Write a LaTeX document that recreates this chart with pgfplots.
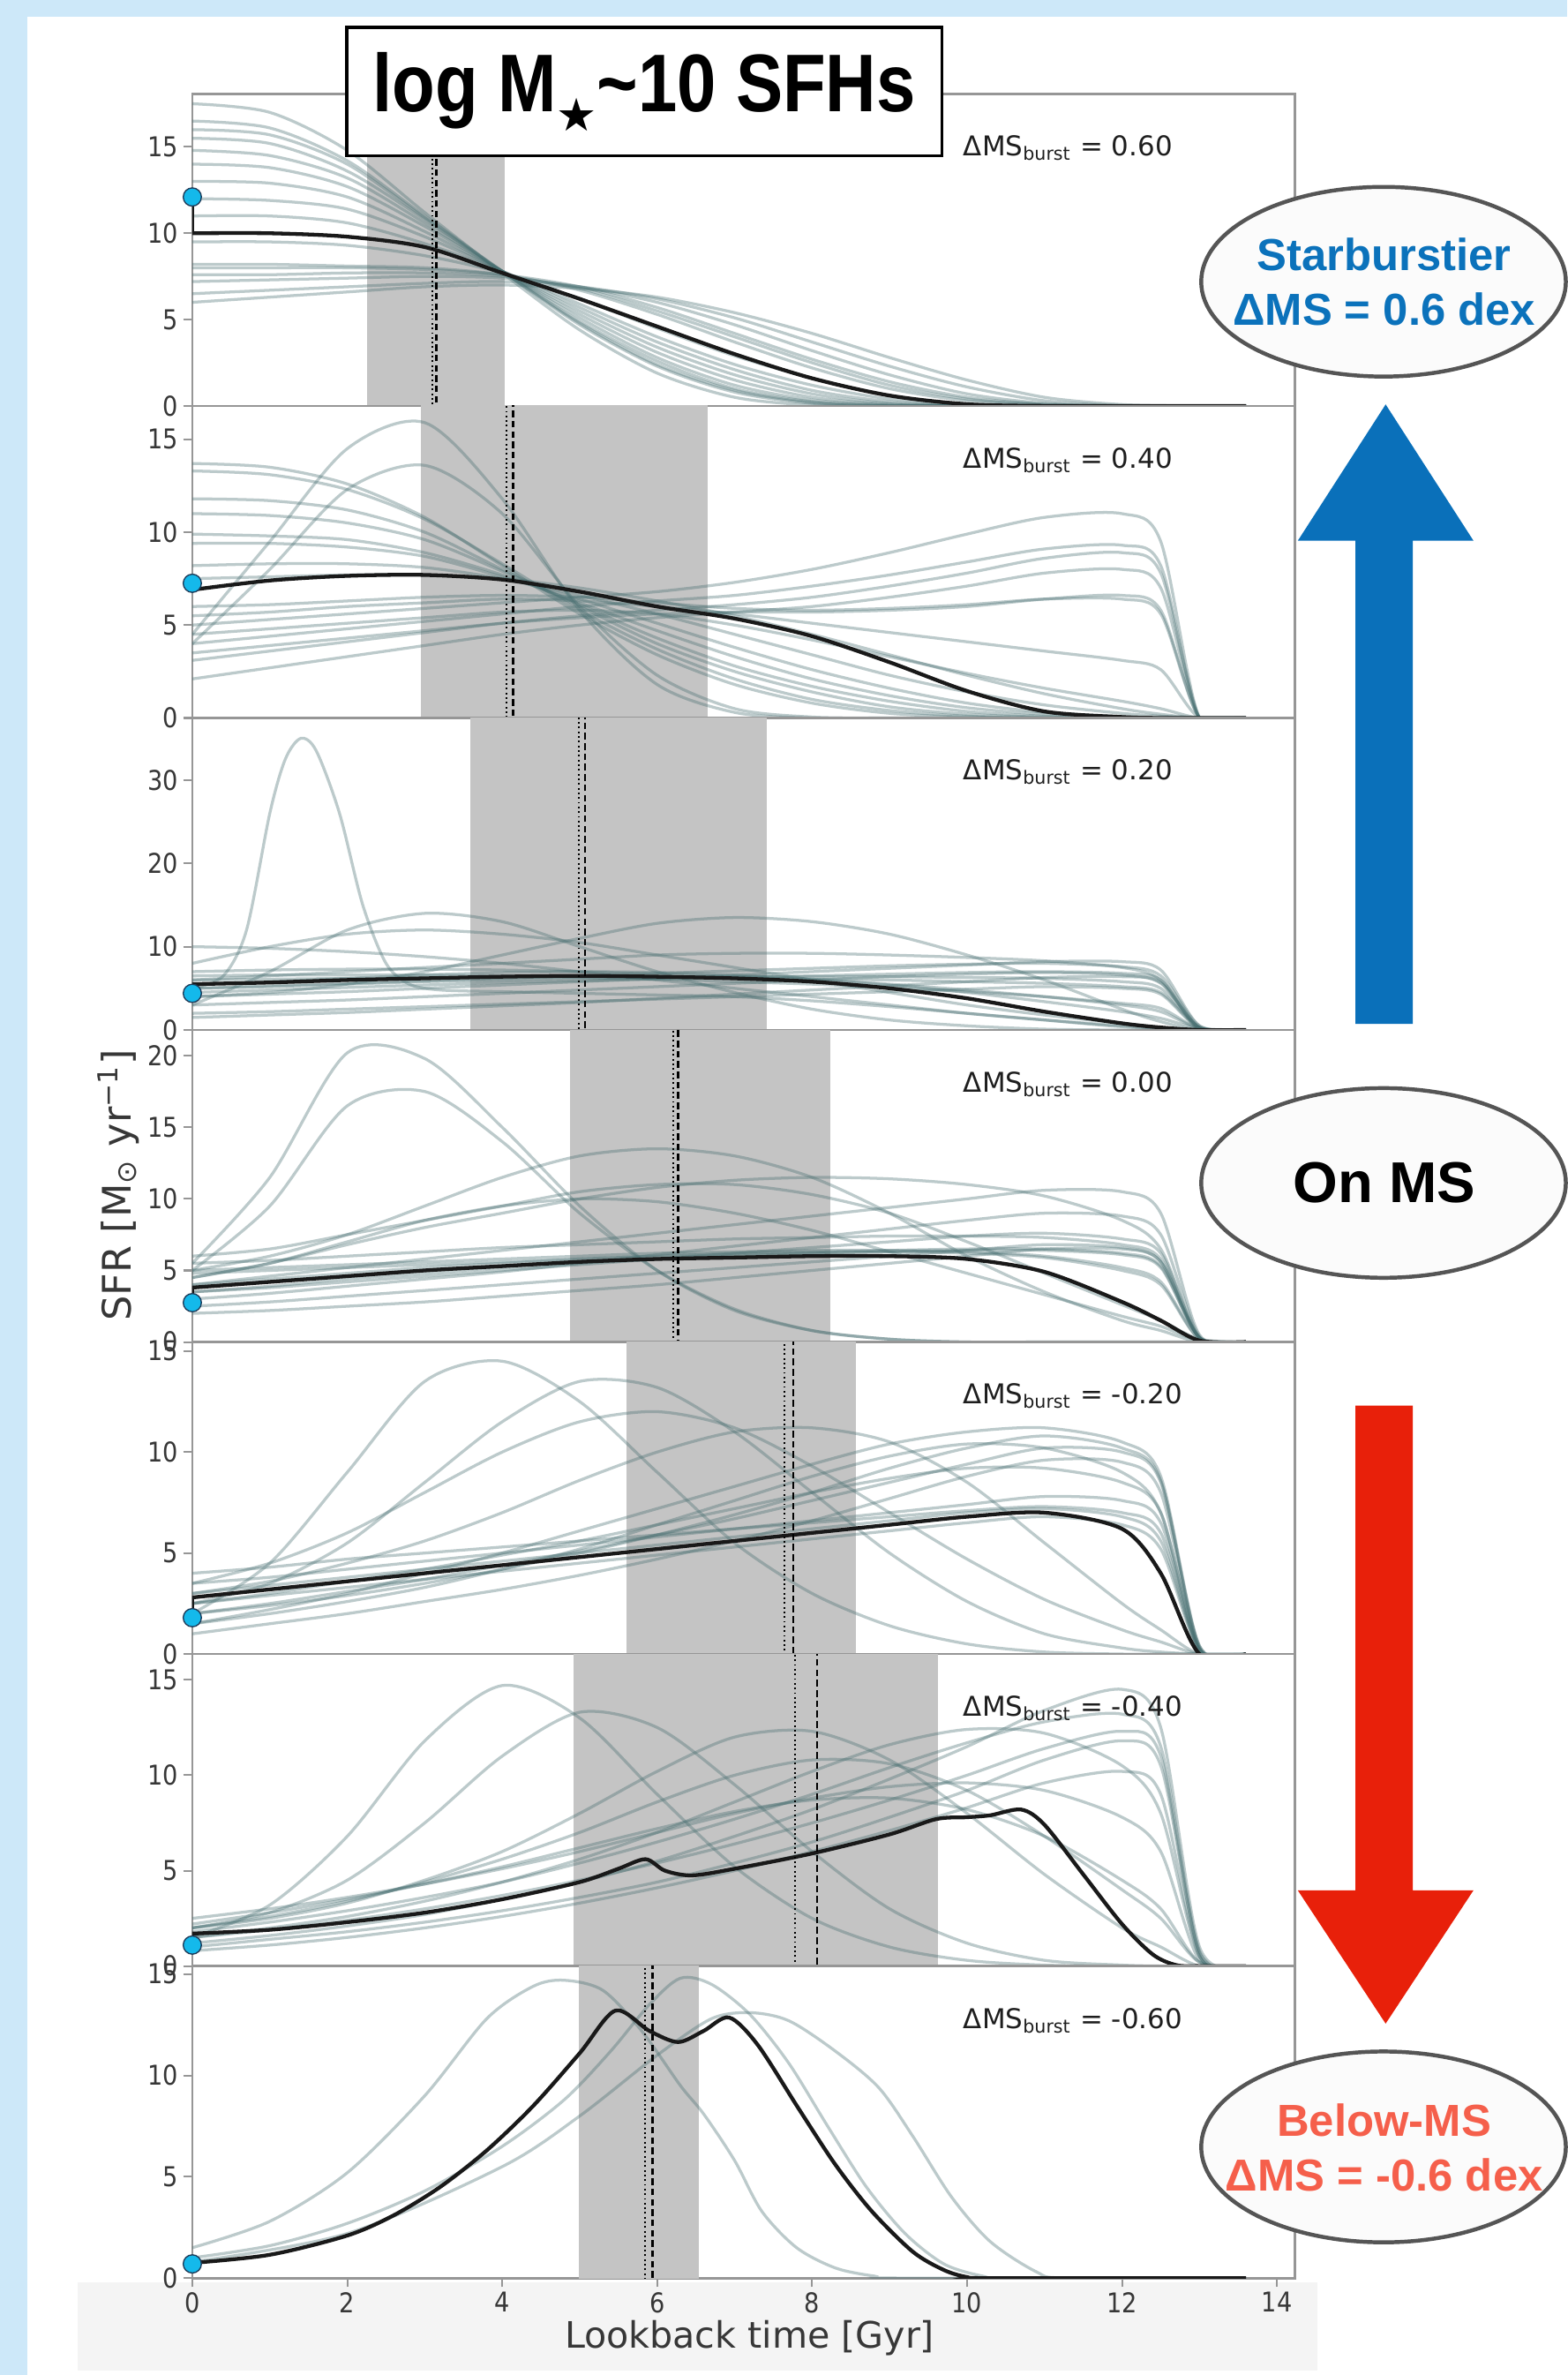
\documentclass[border=0pt]{standalone}
\usepackage{pgfplots}
\pgfplotsset{compat=1.18}
\usepackage{pgfplotstable}
\usepackage{fontspec}
\setmainfont{DejaVu Sans}
\newfontfamily\tickfont{DejaVu Sans}[FakeStretch=0.88]
\newfontfamily\helv{Liberation Sans}
\newfontfamily\titlefont{Liberation Sans}[FakeStretch=0.86]
\newfontfamily\symfont{DejaVu Sans}

\definecolor{bgblue}{RGB}{205,232,249}
\definecolor{xband}{RGB}{244,244,244}
\definecolor{shade}{RGB}{196,196,196}
\definecolor{lcol}{RGB}{70,110,112}
\definecolor{dkcol}{RGB}{25,25,25}
\definecolor{dotcyan}{RGB}{20,185,235}
\definecolor{dotedge}{RGB}{30,60,90}
\definecolor{spine}{RGB}{150,150,150}
\definecolor{ticklab}{RGB}{55,55,55}
\definecolor{labcol}{RGB}{30,30,30}
\definecolor{arrblue}{RGB}{10,112,186}
\definecolor{txtblue}{RGB}{11,114,187}
\definecolor{arrred}{RGB}{232,32,10}
\definecolor{txtred}{RGB}{245,95,75}
\definecolor{ellstroke}{RGB}{85,85,85}
\definecolor{ellfill}{RGB}{251,251,251}

\newcommand{\dms}[1]{ΔMS\textsubscript{burst} = #1}

\tikzset{plab/.style={anchor=base west, font=\fontsize{9}{10}\selectfont, text=labcol, inner sep=0pt, yshift=-20.5pt}}

\pgfplotsset{
  panel/.style={
    scale only axis, width=364pt, height=103pt,
    anchor=north west,
    xmin=0, xmax=14.23, ymin=0,
    axis line style={draw=spine, line width=0.8pt},
    tick style={draw=spine, line width=0.6pt},
    major tick length=3pt, tick align=outside,
    ytick pos=left, xtick pos=bottom,
    xtick=\empty,
    /pgf/number format/assume math mode=true,
    ticklabel style={font=\tickfont\fontsize{9}{10}\selectfont, text=ticklab, inner sep=1.5pt},
  },
  lc/.style={smooth, draw=lcol, draw opacity=0.36, line width=0.95pt, mark=none},
  dk/.style={smooth, draw=dkcol, line width=1.25pt, mark=none},
  vla/.style={draw=black, line width=0.55pt, densely dotted, mark=none},
  vlb/.style={draw=black, line width=0.65pt, dash pattern=on 2.2pt off 1.2pt, mark=none},
  shd/.style={fill=shade, draw=none, mark=none},
  sdot/.style={only marks, mark=*, mark size=3pt, mark options={fill=dotcyan, draw=dotedge, line width=0.4pt}},
}

% ---------------- data ----------------
\pgfplotstableread{
t c1 c2 c3 c4 c5 c6 c7 c8 c9 c10 c11 c12 c13 c14 c15 c16 dk
0 17.5 16.5 15.5 14.8 14.0 13.0 12.0 11.0 9.5 8.2 8.0 7.2 6.5 6.0 7.6 16.0 10.0
1 17.0 16.1 15.2 14.5 13.8 12.9 11.9 11.0 9.5 8.2 8.0 7.3 6.7 6.3 7.6 15.7 10.0
2 14.8 14.2 13.6 13.2 12.7 12.1 11.4 10.6 9.3 8.1 8.0 7.4 6.9 6.6 7.7 14.0 9.8
3 11.2 11.0 10.8 10.6 10.4 10.1 9.8 9.4 8.7 8.0 7.9 7.5 7.1 6.9 7.7 10.9 9.2
4 7.7 7.8 7.8 7.8 7.8 7.8 7.8 7.8 7.7 7.6 7.6 7.4 7.2 7.0 7.5 7.8 7.7
5 4.4 4.7 4.9 5.1 5.3 5.5 5.7 5.9 6.2 6.7 6.9 6.9 6.9 6.8 6.8 4.8 6.2
6 1.9 2.3 2.6 2.8 3.1 3.4 3.7 4.0 4.5 5.3 5.7 6.0 6.2 6.3 5.5 2.4 4.6
7 0.5 0.8 1.0 1.2 1.5 1.8 2.1 2.4 2.9 3.7 4.2 4.7 5.1 5.4 4.0 0.9 3.0
8 0.05 0.15 0.25 0.35 0.5 0.7 0.9 1.2 1.6 2.2 2.7 3.2 3.7 4.2 2.5 0.2 1.6
9 0 0 0.02 0.05 0.1 0.15 0.25 0.4 0.6 1.0 1.4 1.8 2.3 2.8 1.2 0 0.6
10 0 0 0 0 0 0 0.02 0.05 0.1 0.3 0.5 0.7 1.1 1.5 0.4 0 0.1
11 0 0 0 0 0 0 0 0 0 0.05 0.1 0.15 0.3 0.5 0.08 0 0
12 0 0 0 0 0 0 0 0 0 0 0 0 0.02 0.08 0 0 0
13 0 0 0 0 0 0 0 0 0 0 0 0 0 0 0 0 0
13.6 0 0 0 0 0 0 0 0 0 0 0 0 0 0 0 0 0
}\pA

\pgfplotstableread{
t c1 c2 c3 c4 c5 c6 c7 c8 c9 c10 c11 c12 c13 c14 c15 c16 c17 c18 dk
0 4.5 4 13.7 13.3 11.8 11.0 9.9 9.4 8.2 5.0 4.0 3.1 2.1 6.0 5.5 4.5 3.5 7.5 6.9
1 9.5 8 13.5 13.1 11.7 10.9 9.8 9.4 8.3 5.3 4.4 3.6 2.7 6.1 5.7 4.8 3.9 7.6 7.4
2 14.5 12.3 12.6 12.3 11.2 10.5 9.6 9.2 8.3 5.6 4.8 4.1 3.3 6.3 6.0 5.1 4.3 7.7 7.65
3 15.9 13.6 10.8 10.7 10.0 9.6 8.9 8.7 8.1 5.9 5.2 4.6 3.9 6.5 6.2 5.4 4.7 7.7 7.7
4 11.8 11 8.2 8.3 8.0 7.9 7.7 7.6 7.5 6.2 5.6 5.1 4.5 6.6 6.4 5.7 5.1 7.5 7.45
5 5.8 6 5.6 5.8 6.0 6.1 6.2 6.4 6.6 6.5 6.0 5.5 5.0 6.5 6.3 5.8 5.4 7.0 6.8
6 1.8 2.3 3.4 3.7 4.0 4.3 4.7 5.1 5.6 6.8 6.3 5.8 5.4 6.2 6.0 5.6 5.6 6.3 6.0
7 0.3 0.5 1.8 2.1 2.5 2.8 3.3 3.8 4.5 7.3 6.6 6.1 5.7 5.9 5.6 5.0 5.7 5.5 5.35
8 0 0.05 0.8 1.0 1.4 1.7 2.1 2.6 3.4 8.0 7.1 6.5 6.0 5.8 5.1 4.2 5.7 4.5 4.4
9 0 0 0.25 0.4 0.6 0.9 1.2 1.6 2.3 8.9 7.7 7.1 6.5 5.9 4.6 3.3 5.8 3.4 3.0
10 0 0 0.05 0.1 0.2 0.35 0.55 0.8 1.4 9.9 8.4 7.8 7.1 6.1 4.1 2.4 6.0 2.3 1.45
11 0 0 0 0 0.05 0.1 0.2 0.3 0.7 10.8 9.1 8.6 7.8 6.4 3.6 1.6 6.4 1.3 0.35
12 0 0 0 0 0 0 0.05 0.08 0.25 11.0 9.3 8.9 8.0 6.4 3.1 0.9 6.6 0.5 0.05
12.5 0 0 0 0 0 0 0 0 0.1 9.5 8.2 7.8 7.0 5.6 2.6 0.5 5.8 0.2 0
13 0 0 0 0 0 0 0 0 0 0 0 0 0 0 0 0 0 0 0
13.6 0 0 0 0 0 0 0 0 0 0 0 0 0 0 0 0 0 0 0
}\pB

\pgfplotstableread{
t c1 c2 c3 c4 c5 c6 c7 c8 c9 c10 c11 c12 c13 c14 c15 c16 dk
0 3 8 4 6 5 4 7 10 3 2 5.5 1.5 6 5 6.5 4.5 5.5
1 7 10 4.5 6.5 5.3 4.3 7.2 9.8 3.3 2.2 5.8 1.8 6.1 5.2 6.6 4.8 5.7
2 12 11.5 5.5 7 5.6 4.6 7.3 9.4 3.6 2.5 6.2 2.1 6.2 5.5 6.6 5.1 6.0
3 14 12 7 7.5 5.9 5 7.3 8.8 4 2.8 6.6 2.5 6.3 5.8 6.6 5.4 6.2
4 13 11.5 9 8 6.2 5.4 7.2 8 4.4 3.1 6.9 2.9 6.4 6 6.5 5.7 6.4
5 10 10.5 11 8.5 6.5 5.8 7 7 4.8 3.4 7 3.3 6.4 6.2 6.3 5.9 6.5
6 7 9 12.8 9 6.8 6.2 6.7 6 5.2 3.7 6.9 3.8 6.3 6.3 6.1 6.1 6.4
7 4.5 7.5 13.5 9.2 7.1 6.6 6.4 5 5.6 4 6.6 4.3 6.2 6.4 5.8 6.3 6.2
8 2.5 6 13 9.2 7.4 7 6 4 6 4.3 6.1 4.8 6.1 6.4 5.5 6.5 5.8
9 1.2 4.5 11.5 9 7.7 7.4 5.5 3 6.4 4.6 5.4 5.3 6 6.4 5.1 6.7 5.0
10 0.5 3 9 8.7 7.9 7.8 4.8 2 6.7 4.9 4.5 5.8 5.8 6.3 4.6 6.9 3.8
11 0.1 1.8 6 8.3 8 8.2 4 1.2 6.9 5.2 3.4 6.3 5.6 6.2 4 7 2.2
12 0 0.8 2.5 7.5 7.6 8.2 3 0.5 6.6 5 2.2 6.4 5.2 5.8 3.2 6.8 0.8
12.5 0 0.3 1 6 6.5 7.2 2.2 0.2 5.6 4.3 1.4 5.7 4.5 5 2.6 6 0.3
13 0 0 0 0 0.5 0.5 0.2 0 0.3 0.2 0.2 0.3 0.3 0.3 0.2 0.3 0
13.6 0 0 0 0 0 0 0 0 0 0 0 0 0 0 0 0 0
}\pC

\pgfplotstableread{
t c1 c2 c3 c4 c5 c6 c7 c8 c9 c10 c11 c12 c13 c14 c15 c16 dk
0 5.5 5 5 4.5 4 3 5.5 6 2.5 4.5 3.5 5 2 4 3.5 4.8 3.8
1 11.5 9.5 6 5.5 4.6 3.4 5.7 6.5 2.8 5.5 3.8 5.2 2.2 4.4 3.9 5 4.2
2 20.2 16.5 7.5 6.8 5.2 3.9 6 7.5 3.2 7 4.2 5.4 2.5 4.8 4.4 5.2 4.6
3 19.8 17.5 9.5 8 5.8 4.4 6.3 8.5 3.6 8.5 4.6 5.6 2.8 5.2 4.8 5.4 5.0
4 15 14 11.5 9 6.4 4.9 6.6 9.5 4 9.5 5 5.8 3.2 5.5 5.2 5.6 5.3
5 9.5 9 13 10 7 5.5 6.8 10.5 4.4 10 5.4 6 3.6 5.8 5.5 5.8 5.6
6 5 5 13.5 10.8 7.6 6.1 7 11 4.8 9.8 5.8 6.2 4 6 5.8 6 5.8
7 2.2 2.3 13 11.3 8.2 6.7 7.2 11 5.2 9 6.2 6.3 4.5 6.2 6 6.1 5.9
8 0.8 0.8 11.5 11.5 8.8 7.3 7.3 10.3 5.6 7.8 6.6 6.4 5 6.3 6.2 6.2 6.0
9 0.2 0.2 9 11.4 9.4 7.9 7.4 9 6 6.3 7 6.4 5.5 6.4 6.3 6.3 6.0
10 0 0 6 11 10 8.5 7.4 7 6.4 4.8 7.4 6.3 6 6.5 6.2 6.4 5.8
11 0 0 3.5 10.2 10.6 9 7.3 4.8 6.8 3.3 7.6 6 6.5 6.5 5.9 6.4 4.9
12 0 0 1.5 8.5 10.5 8.8 6.8 2.6 6.6 1.8 7.2 5.2 6.5 6.2 5 6.1 2.8
12.5 0 0 0.8 6.5 9 7.5 5.8 1.5 5.6 1.1 6.2 4.2 5.6 5.3 4 5.2 1.5
13 0 0 0 0.3 0.5 0.4 0.3 0.2 0.3 0.1 0.3 0.2 0.3 0.3 0.2 0.3 0.1
13.6 0 0 0 0 0 0 0 0 0 0 0 0 0 0 0 0 0
}\pD

\pgfplotstableread{
t c1 c2 c3 c4 c5 c6 c7 c8 c9 c10 c11 c12 c13 c14 dk
0 2 2.5 3 3.5 1.5 2 1 2.5 3.5 1.5 4 2 2.5 3 2.8
1 4.5 3.5 3.6 4.5 2.2 2.5 1.5 3 3.8 2 4.3 2.4 2.9 3.4 3.2
2 9 5.5 4.5 6 3 3.1 2 3.6 4.2 2.6 4.7 2.9 3.3 3.8 3.6
3 13.5 8.5 5.6 8 4 3.7 2.6 4.2 4.6 3.3 5 3.5 3.7 4.2 4.0
4 14.5 11.5 7 10 5 4.4 3.2 4.9 5 4.2 5.3 4.2 4.1 4.6 4.4
5 12.5 13.5 8.6 11.5 6.1 5.1 3.9 5.6 5.4 5.2 5.6 5 4.5 5 4.8
6 9 13.2 10 12 7.2 5.9 4.7 6.4 5.8 6.4 5.9 5.9 4.9 5.4 5.2
7 5.5 11 11 11.2 8.3 6.7 5.6 7.2 6.2 7.6 6.2 6.9 5.3 5.8 5.6
8 3 8 11.2 9.3 9.4 7.6 6.6 8 6.6 8.8 6.5 8 5.7 6.2 6.0
9 1.4 5 10.5 7 10.4 8.5 7.7 8.7 7 9.8 6.8 9.2 6.1 6.6 6.4
10 0.5 2.6 8.5 4.7 11 9.4 8.8 9.2 7.4 10.4 7.1 10.2 6.5 7 6.8
11 0.1 1 5.5 2.7 11.2 10.2 9.6 9.2 7.8 10.2 7.3 10.8 6.8 7.2 7.0
12 0 0.3 2.5 1.2 10.5 10 9.5 8.5 7.6 9 7 10.2 6.4 6.8 6.2
12.5 0 0.1 1.2 0.6 8.8 8.5 8 7 6.5 7 6 8.6 5.2 5.6 4.0
13 0 0 0 0 0.4 0.4 0.3 0.3 0.2 0.2 0.2 0.3 0.2 0.2 0
13.6 0 0 0 0 0 0 0 0 0 0 0 0 0 0 0
}\pE

\pgfplotstableread{
t c1 c2 c3 c4 c5 c6 c7 c8 c9 c10 c11 c12
0 1.5 2 2 1.5 1.2 1.8 1 2.5 1.5 2 0.8 2.2
1 3.2 2.8 2.5 2 1.6 2.3 1.4 3 1.9 2.6 1.1 2.8
2 6.8 4.5 3.3 2.6 2.1 2.9 1.8 3.6 2.4 3.4 1.5 3.5
3 11.8 7.5 4.5 3.4 2.7 3.6 2.3 4.3 3 4.4 2 4.3
4 14.7 11 6 4.4 3.5 4.4 2.9 5.1 3.7 5.6 2.6 5.2
5 13 13.3 8 5.6 4.4 5.4 3.6 6 4.5 7 3.3 6.2
6 9 12.5 10.2 7 5.5 6.5 4.4 7 5.4 8.6 4.1 7.2
7 5.2 9.5 12 8.6 6.8 7.7 5.4 8 6.4 10 5 8.1
8 2.5 6 12.3 10.2 8.2 9 6.5 8.8 7.5 10.8 6 8.7
9 1 3 10.8 11.6 9.8 10.4 7.8 9.4 8.7 10.6 7.1 8.8
10 0.3 1.2 8 12.4 11.5 11.7 9.2 9.6 10 9.2 8.3 8.2
11 0.05 0.3 4.8 12.2 13.4 12.8 10.8 9.2 11.4 6.8 9.6 6.8
12 0 0.05 2 10.5 14.5 13.2 11.8 7.8 12.3 4 10.2 4.5
12.5 0 0 1 8 12.5 11.5 10.5 6 11 2.5 9 3
13 0 0 0 0.5 1 0.8 0.7 0.3 0.6 0.2 0.5 0.2
13.6 0 0 0 0 0 0 0 0 0 0 0 0
}\pF

\begin{document}
\begin{tikzpicture}
\begin{scope}[x=0.5pt, y=-0.5pt]
  \path[use as bounding box] (0,0) rectangle (1035,1568);
  \fill[bgblue] (0,0) rectangle (1035,1568);
  \fill[white] (18,11) rectangle (1035,1568);
  \fill[xband] (51,1507) rectangle (870,1565);
\end{scope}

% ---- Panel 1 ----
\begin{axis}[panel, at={(63.5pt,-31pt)}, ymax=18.07, ytick={0,5,10,15}]
  \addplot[shd] coordinates {(2.25,-1)(2.25,100)(4.03,100)(4.03,-1)} -- cycle;
  \pgfplotsinvokeforeach{1,...,16}{\addplot[lc] table[x=t,y=c#1]{\pA};}
  \addplot[dk] table[x=t,y=dk]{\pA};
  \addplot[dk] coordinates {(0,12.1)(0,10)};
  \addplot[vla] coordinates {(3.10,-1)(3.10,100)};
  \addplot[vlb] coordinates {(3.15,-1)(3.15,100)};
  \addplot[sdot] coordinates {(0,12.1)};
  \node[plab] at (rel axis cs:0.699,1) {\dms{0.60}};
\end{axis}

% ---- Panel 2 ----
\begin{axis}[panel, at={(63.5pt,-134pt)}, ymax=16.8, ytick={0,5,10,15}]
  \addplot[shd] coordinates {(2.95,-1)(2.95,100)(6.65,100)(6.65,-1)} -- cycle;
  \pgfplotsinvokeforeach{1,...,18}{\addplot[lc] table[x=t,y=c#1]{\pB};}
  \addplot[dk] table[x=t,y=dk]{\pB};
  \addplot[dk] coordinates {(0,7.25)(0,6.9)};
  \addplot[vla] coordinates {(4.06,-1)(4.06,100)};
  \addplot[vlb] coordinates {(4.14,-1)(4.14,100)};
  \addplot[sdot] coordinates {(0,7.25)};
  \node[plab] at (rel axis cs:0.699,1) {\dms{0.40}};
\end{axis}

% ---- Panel 3 ----
\begin{axis}[panel, at={(63.5pt,-237pt)}, ymax=37.45, ytick={0,10,20,30}]
  \addplot[shd] coordinates {(3.59,-1)(3.59,100)(7.41,100)(7.41,-1)} -- cycle;
  \pgfplotsinvokeforeach{1,...,16}{\addplot[lc] table[x=t,y=c#1]{\pC};}
  \addplot[lc] coordinates {(0,5)(0.4,6.5)(0.7,12)(1.0,26)(1.2,32.5)(1.4,35)(1.6,33.5)(1.9,26)(2.2,15)(2.5,8)(2.8,5.5)(3.2,4.8)(4,4.6)(5,4.4)(6,4.2)(7,4)(8,3.5)(9,2.8)(10,2)(11,1.2)(12,0.4)(13,0)(13.6,0)};
  \addplot[dk] table[x=t,y=dk]{\pC};
  \addplot[dk] coordinates {(0,4.4)(0,5.5)};
  \addplot[vla] coordinates {(4.99,-1)(4.99,100)};
  \addplot[vlb] coordinates {(5.07,-1)(5.07,100)};
  \addplot[sdot] coordinates {(0,4.4)};
  \node[plab] at (rel axis cs:0.699,1) {\dms{0.20}};
\end{axis}

% ---- Panel 4 ----
\begin{axis}[panel, at={(63.5pt,-340pt)}, ymax=21.8, ytick={0,5,10,15,20}]
  \addplot[shd] coordinates {(4.88,-1)(4.88,100)(8.23,100)(8.23,-1)} -- cycle;
  \pgfplotsinvokeforeach{1,...,16}{\addplot[lc] table[x=t,y=c#1]{\pD};}
  \addplot[dk] table[x=t,y=dk]{\pD};
  \addplot[dk] coordinates {(0,2.75)(0,3.8)};
  \addplot[vla] coordinates {(6.21,-1)(6.21,100)};
  \addplot[vlb] coordinates {(6.27,-1)(6.27,100)};
  \addplot[sdot] coordinates {(0,2.75)};
  \node[plab] at (rel axis cs:0.699,1) {\dms{0.00}};
\end{axis}

% ---- Panel 5 ----
\begin{axis}[panel, at={(63.5pt,-443pt)}, ymax=15.45, ytick={0,5,10,15}]
  \addplot[shd] coordinates {(5.6,-1)(5.6,100)(8.56,100)(8.56,-1)} -- cycle;
  \pgfplotsinvokeforeach{1,...,14}{\addplot[lc] table[x=t,y=c#1]{\pE};}
  \addplot[dk] table[x=t,y=dk]{\pE};
  \addplot[dk] coordinates {(0,1.8)(0,2.8)};
  \addplot[vla] coordinates {(7.64,-1)(7.64,100)};
  \addplot[vlb] coordinates {(7.76,-1)(7.76,100)};
  \addplot[sdot] coordinates {(0,1.8)};
  \node[plab] at (rel axis cs:0.699,1) {\dms{-0.20}};
\end{axis}

% ---- Panel 6 ----
\begin{axis}[panel, at={(63.5pt,-546pt)}, ymax=16.35, ytick={0,5,10,15}]
  \addplot[shd] coordinates {(4.92,-1)(4.92,100)(9.63,100)(9.63,-1)} -- cycle;
  \pgfplotsinvokeforeach{1,...,12}{\addplot[lc] table[x=t,y=c#1]{\pF};}
  \addplot[dk] coordinates {(0,1.7)(1,1.9)(2,2.3)(3,2.8)(4,3.5)(5,4.4)(5.5,5.1)(5.85,5.6)(6.1,5.0)(6.45,4.75)(7,5.1)(8,5.9)(9,6.9)(9.6,7.7)(10,7.8)(10.3,7.9)(10.7,8.2)(11,7.4)(11.5,4.8)(12,2.2)(12.4,0.6)(12.7,0.05)(13,0)(13.6,0)};
  \addplot[dk] coordinates {(0,1.1)(0,1.7)};
  \addplot[vla] coordinates {(7.78,-1)(7.78,100)};
  \addplot[vlb] coordinates {(8.06,-1)(8.06,100)};
  \addplot[sdot] coordinates {(0,1.1)};
  \node[plab] at (rel axis cs:0.699,1) {\dms{-0.40}};
\end{axis}

% ---- Panel 7 ----
\begin{axis}[panel, at={(63.5pt,-649pt)}, ymax=15.4, ytick={0,5,10,15},
  xtick={0,2,4,6,8,10,12,14}]
  \addplot[shd] coordinates {(4.99,-1)(4.99,100)(6.54,100)(6.54,-1)} -- cycle;
  \addplot[lc] coordinates {(0,1.5)(1,2.8)(2,5.2)(3,9)(3.8,12.8)(4.4,14.4)(4.8,14.7)(5.3,14.2)(5.8,12.2)(6.3,9.5)(6.6,8.1)(7,5.8)(7.35,3.3)(7.8,1.5)(8.3,0.5)(8.8,0.1)(9.2,0)(13.6,0)};
  \addplot[lc] coordinates {(0,1.0)(1,1.6)(2,2.7)(3,4.3)(4,6.5)(4.8,8.8)(5.4,11.2)(5.9,13.5)(6.3,14.8)(6.7,14.5)(7.2,13)(7.7,10.6)(8.2,7.5)(8.7,4.5)(9.2,2.2)(9.7,0.7)(10.2,0.1)(10.6,0)(13.6,0)};
  \addplot[lc] coordinates {(0,0.8)(2,2.2)(4,5.5)(5,8)(6,11)(6.7,12.8)(7.2,13.1)(7.7,12.7)(8.3,11.2)(8.86,9.4)(9.3,7)(9.8,4)(10.3,1.8)(10.9,0.3)(11.3,0)(13.6,0)};
  \addplot[dk] coordinates {(0,0.75)(1,1.15)(2,2.1)(2.6,3.1)(3.2,4.5)(3.8,6.3)(4.4,8.5)(5.0,11.1)(5.46,13.2)(5.9,12.2)(6.27,11.65)(6.6,12.2)(6.93,12.86)(7.3,11.5)(7.82,8.4)(8.3,5.6)(8.77,3.3)(9.3,1.3)(9.7,0.4)(10.0,0.05)(10.3,0)(13.6,0)};
  \addplot[vla] coordinates {(5.84,-1)(5.84,100)};
  \addplot[vlb] coordinates {(5.94,-1)(5.94,100)};
  \addplot[sdot] coordinates {(0,0.7)};
  \node[plab] at (rel axis cs:0.699,1) {\dms{-0.60}};
\end{axis}

\begin{scope}[x=0.5pt, y=-0.5pt]
  % axis labels
  \node[rotate=90, font=\fontsize{13}{13}\selectfont, text=ticklab] at (78,782.5) {SFR [M\textsubscript{⊙} yr\textsuperscript{−1}]};
  \node[anchor=base, font=\fontsize{12}{12}\selectfont, text=ticklab] at (495,1550) {Lookback time [Gyr]};
  % title box
  \node[draw=black, line width=1pt, fill=white, minimum width=196.5pt, minimum height=42.5pt, inner sep=0pt]
    at (425.5,60.5) {\titlefont\bfseries\fontsize{27}{27}\selectfont log M\raisebox{-0.45ex}{\symfont\fontsize{15}{15}\selectfont ★}\textasciitilde10 SFHs};
  % arrows
  \fill[arrblue] (895,676) -- (895,357) -- (857,357) -- (915,267) -- (973,357) -- (933,357) -- (933,676) -- cycle;
  \fill[arrred] (895,928) -- (933,928) -- (933,1248) -- (973,1248) -- (915,1336) -- (857,1248) -- (895,1248) -- cycle;
  % ellipses
  \draw[ellstroke, line width=1.3pt, fill=ellfill] (913.6,186) ellipse [x radius=60.2pt, y radius=31.3pt];
  \draw[ellstroke, line width=1.3pt, fill=ellfill] (913.6,781) ellipse [x radius=60.2pt, y radius=31.3pt];
  \draw[ellstroke, line width=1.3pt, fill=ellfill] (913.6,1417.4) ellipse [x radius=60.2pt, y radius=31.5pt];
  \node[align=center, text=txtblue, font=\helv\bfseries\fontsize{14.8}{18}\selectfont] at (914,186) {Starburstier\\ΔMS = 0.6 dex};
  \node[text=black, font=\helv\bfseries\fontsize{19}{19}\selectfont] at (914,781) {On MS};
  \node[align=center, text=txtred, font=\helv\bfseries\fontsize{14.8}{18}\selectfont] at (914,1418) {Below-MS\\ΔMS = -0.6 dex};
\end{scope}
\end{tikzpicture}
\end{document}
